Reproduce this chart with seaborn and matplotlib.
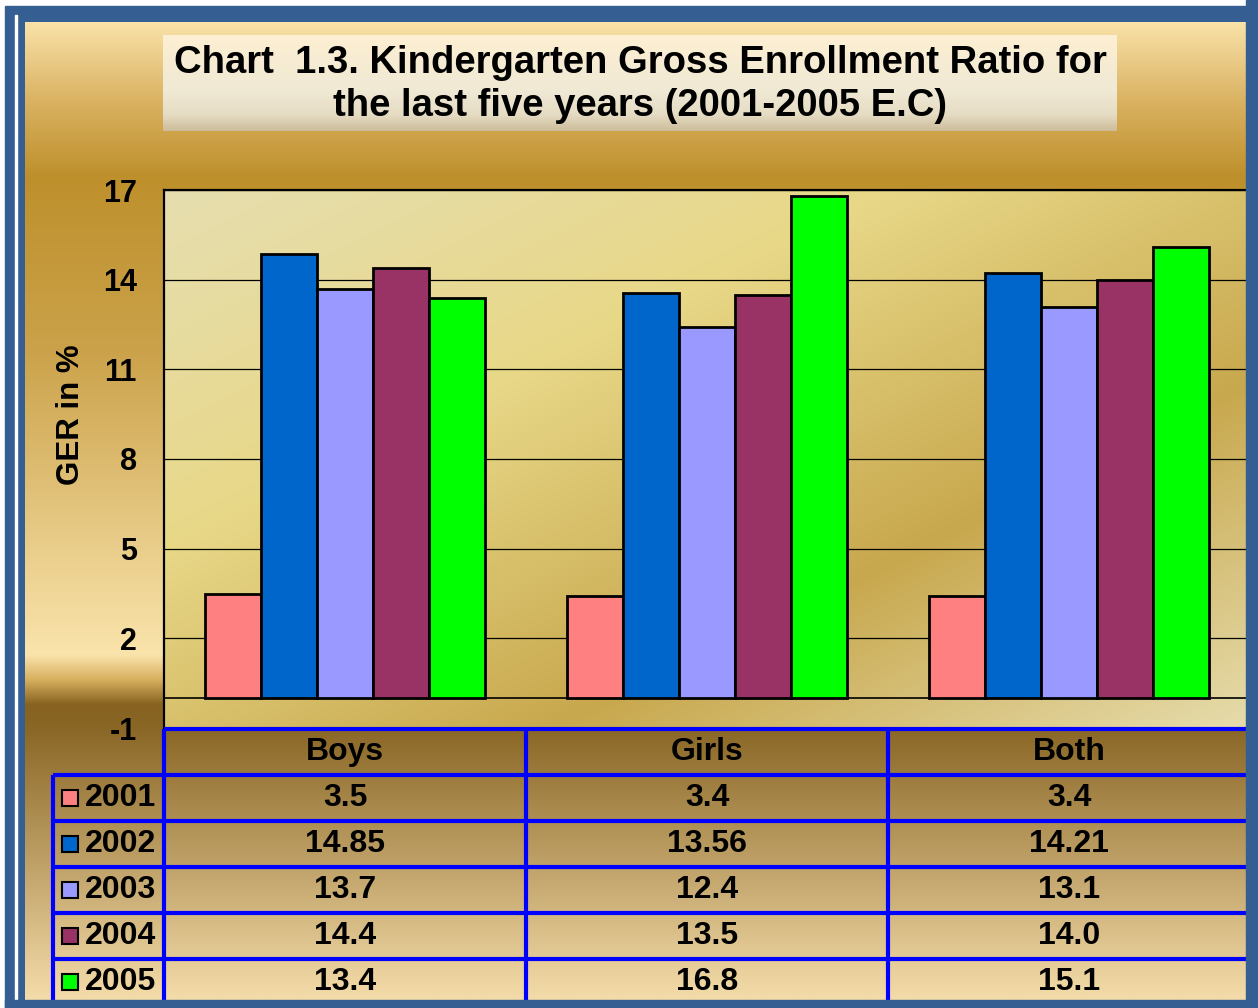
import numpy as np
import pandas as pd
import matplotlib
matplotlib.use("Agg")
import matplotlib.pyplot as plt
import matplotlib.transforms as mtransforms
from matplotlib.patches import Rectangle
import seaborn as sns

# ---------------- data ----------------
groups = ["Boys", "Girls", "Both"]
years = ["2001", "2002", "2003", "2004", "2005"]
ger_2001 = [3.5, 3.4, 3.4]
ger_2002 = [14.85, 13.56, 14.21]
ger_2003 = [13.7, 12.4, 13.1]
ger_2004 = [14.4, 13.5, 14.0]
ger_2005 = [13.4, 16.8, 15.1]
table_decimals = [1, 2, 1, 1, 1]
yticks = [-1, 2, 5, 8, 11, 14, 17]
year_colors = ["#FF8080", "#0066CC", "#9999FF", "#993366", "#00FF00"]
title_lines = ["Chart  1.3. Kindergarten Gross Enrollment Ratio for",
               "the last five years (2001-2005 E.C)"]
ylabel = "GER in %"

series = [ger_2001, ger_2002, ger_2003, ger_2004, ger_2005]
df = pd.DataFrame({
    "group": [g for s in series for g in groups],
    "year": [y for y, s in zip(years, series) for _ in s],
    "GER": [v for s in series for v in s],
})
palette = dict(zip(years, year_colors))

# ---------------- style ----------------
sns.set_style("white")
plt.rcParams["font.family"] = ["Liberation Sans", "DejaVu Sans"]
plt.rcParams["font.weight"] = "bold"
plt.rcParams["axes.unicode_minus"] = False
plt.rcParams["text.color"] = "black"
plt.rcParams["axes.labelcolor"] = "black"
plt.rcParams["xtick.color"] = "black"
plt.rcParams["ytick.color"] = "black"

W, H = 1258, 1008
fig = plt.figure(figsize=(W / 100, H / 100), dpi=100)

def grad_img(stops, n):
    ys = np.linspace(stops[0][0], stops[-1][0], n)
    pos = [s[0] for s in stops]
    cols = np.array([s[1] for s in stops], dtype=float) / 255.0
    img = np.stack([np.interp(ys, pos, cols[:, c]) for c in range(3)], axis=-1)
    return img[:, None, :]

# background axes
bg = fig.add_axes([0, 0, 1, 1], zorder=-5)
bg.set_xlim(0, W); bg.set_ylim(H, 0); bg.axis("off")
bg.add_patch(Rectangle((0, 0), W, H, color="white", zorder=0))
bg.add_patch(Rectangle((5, 6), W - 5, H - 6, color="#355F93", zorder=1))
bg.add_patch(Rectangle((15, 15), 2, H - 15, color="white", zorder=2))
bg_stops = [
    (22, (249, 226, 168)), (100, (218, 178, 98)), (175, (190, 144, 44)),
    (350, (203, 162, 74)), (515, (228, 198, 128)), (655, (250, 228, 172)),
    (680, (215, 175, 95)), (705, (135, 98, 32)), (729, (138, 103, 38)),
    (1000, (244, 220, 170)),
]
bg.imshow(grad_img(bg_stops, 600), extent=(25, 1246, 1000, 22), aspect="auto",
          zorder=3, interpolation="bilinear")
# title box
title_stops = [(35, (253, 239, 210)), (90, (240, 233, 213)), (115, (230, 220, 196)),
               (131, (204, 188, 154))]
bg.imshow(grad_img(title_stops, 100), extent=(163, 1117, 131, 35), aspect="auto",
          zorder=4, interpolation="bilinear")
bg.set_xlim(0, W); bg.set_ylim(H, 0)

# ---------------- plot axes ----------------
ax = fig.add_axes([164 / W, 1 - 728 / H, (1250 - 164) / W, (728 - 190) / H], zorder=1)
ax.patch.set_visible(False)

# diagonal gradient for plot area
nx, ny = 300, 150
xx, yy = np.meshgrid(np.linspace(0, 1, nx), np.linspace(0, 1, ny))
t = (xx * 1.0 + yy * 1.0) / 2.0
pa_pos = [0.0, 0.33, 0.68, 1.0]
pa_cols = np.array([(230, 222, 176), (232, 216, 136), (200, 168, 78), (230, 220, 172)]) / 255.0
pa_img = np.stack([np.interp(t, pa_pos, pa_cols[:, c]) for c in range(3)], axis=-1)
ax.imshow(pa_img, extent=(-0.5, 2.5, -1, 17), aspect="auto", zorder=-1,
          interpolation="bilinear")

sns.barplot(data=df, x="group", y="GER", hue="year", order=groups, hue_order=years,
            palette=palette, saturation=1, width=0.774, edgecolor="black",
            linewidth=2, errorbar=None, legend=False, ax=ax, zorder=2)

ax.set_xlim(-0.5, 2.5)
ax.set_ylim(-1, 17)
ax.set_yticks(yticks)
ax.set_yticklabels([str(v) for v in yticks], fontsize=22, fontweight="bold", color="black")
ax.set_xticks([])
ax.set_xlabel("")
ax.set_ylabel("")
ax.set_axisbelow(True)
ax.yaxis.grid(True, color="black", linewidth=0.9)
ax.axhline(0, color="black", linewidth=1.2, zorder=1)
ax.tick_params(axis="y", direction="out", length=6.5, width=1, pad=13, colors="black")
for side in ["right", "bottom"]:
    ax.spines[side].set_visible(False)
for side in ["top", "left"]:
    ax.spines[side].set_color("black")
    ax.spines[side].set_linewidth(1.6)

# ---------------- overlay: title, labels, table, border ----------------
ov = fig.add_axes([0, 0, 1, 1], zorder=5)
ov.set_xlim(0, W); ov.set_ylim(H, 0); ov.axis("off")
ov.patch.set_visible(False)

ov.text(640, 63, title_lines[0], ha="center", va="center", fontsize=27.5,
        fontweight="bold", color="black")
ov.text(640, 106, title_lines[1], ha="center", va="center", fontsize=27.5,
        fontweight="bold", color="black")
ov.text(71, 415, ylabel, ha="center", va="center", rotation=90, fontsize=22.5,
        fontweight="bold", color="black")

blend = mtransforms.blended_transform_factory(ax.transData, ov.transData)
tbl_blue = "#0000FF"
lw_tbl = 3.0
row_top = 729
row_h = 46
n_rows = len(years) + 1
bottom = row_top + row_h * n_rows
fs_tbl = 23

# horizontal lines
ov.plot([-0.5, 2.5], [row_top, row_top], color=tbl_blue, lw=lw_tbl, transform=blend,
        solid_capstyle="butt", clip_on=False)
for r in range(1, n_rows):
    yline = row_top + r * row_h
    ov.plot([53, 1250], [yline, yline], color=tbl_blue, lw=lw_tbl, solid_capstyle="butt")
# vertical lines
for k in range(len(groups)):
    ov.plot([k - 0.5, k - 0.5], [row_top, bottom], color=tbl_blue, lw=lw_tbl,
            transform=blend, solid_capstyle="butt", clip_on=False)
ov.plot([53, 53], [row_top + row_h, bottom], color=tbl_blue, lw=lw_tbl, solid_capstyle="butt")

# header text
for k, g in enumerate(groups):
    ov.text(k, row_top + row_h / 2, g, transform=blend, ha="center", va="center",
            fontsize=fs_tbl, fontweight="bold", color="black", clip_on=False)
# data rows
for r, (yr, s, dec, col) in enumerate(zip(years, series, table_decimals, year_colors)):
    yc = row_top + (r + 1) * row_h + row_h / 2
    ov.add_patch(Rectangle((62, yc - 8), 16, 16, facecolor=col, edgecolor="black", lw=1.5))
    ov.text(85, yc, yr, ha="left", va="center", fontsize=fs_tbl, fontweight="bold",
            color="black")
    for k, v in enumerate(s):
        ov.text(k, yc, f"{v:.{dec}f}", transform=blend, ha="center", va="center",
                fontsize=fs_tbl, fontweight="bold", color="black", clip_on=False)

# outer border over everything
ov.add_patch(Rectangle((1246, 0), W - 1246, H, color="#355F93", zorder=10))
ov.add_patch(Rectangle((5, 1000), W - 5, H - 1000, color="#355F93", zorder=10))

fig.savefig("out.png", dpi=100)
